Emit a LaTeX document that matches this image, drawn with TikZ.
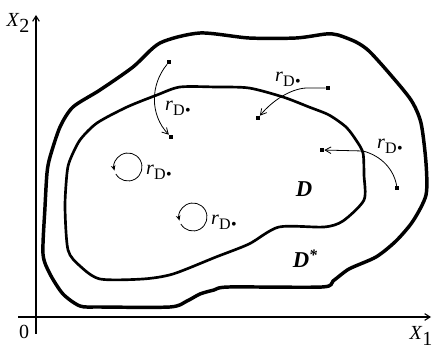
\documentclass[tikz,border=0pt]{standalone}
\usepackage{fontspec}
\setmainfont{Liberation Serif}
\usetikzlibrary{arrows.meta}
\begin{document}
\begin{tikzpicture}[x=0.75pt,y=-0.75pt,
  axis/.style={line width=0.8pt,-{Straight Barb[length=4pt,width=5pt]}},
  outer/.style={line width=2.6pt,line join=round},
  inner/.style={line width=2pt,line join=round},
  mapping/.style={line width=0.6pt,-{Straight Barb[length=4.5pt,width=5pt]}},
  spot/.style={fill=black,inner sep=0pt,minimum size=3pt,rectangle},
  lbl/.style={inner sep=0pt,font=\fontsize{15}{15}\selectfont},
  region/.style={inner sep=0pt,font=\fontsize{17}{17}\selectfont\bfseries\itshape}]
\useasboundingbox (0,0) rectangle (432,348);
\newcommand{\rlab}{\textit{r}\raisebox{-4pt}{\fontsize{12}{12}\selectfont D\kern0.5pt•}}
% axes
\coordinate (yb) at (36,334);
\coordinate (yt) at (36,15);
\coordinate (xl) at (18,317);
\coordinate (xr) at (431,317);
\draw[axis] (yb) -- (yt);
\draw[axis] (xl) -- (xr);
\node[lbl] (x2) at (18,23) {\textit{X}\raisebox{-4.5pt}{2}};
\node[lbl] (x1) at (421,336) {\textit{X}\raisebox{-4.5pt}{1}};
\node[lbl] (zero) at (24,332) {0};
% outer region D*
\draw[outer] plot[smooth cycle,tension=0.45] coordinates {
 (200,33) (249,38) (296,38) (326,34) (338,35) (356,42) (369,51) (389,73) (411,100)
 (421,123) (426,163) (426,195) (413,221) (396,241) (376,257) (349,269) (333,281)
 (322,287) (229,287) (214,290) (200,294) (187,301) (170,307) (100,307) (80,306)
 (63,294) (50,274) (43,254) (45,207) (47,173) (50,157) (60,127) (73,107) (100,90)
 (133,67) (160,43)};
% inner region D
\draw[inner] plot[smooth cycle,tension=0.45] coordinates {
 (180,87) (216,87) (249,88) (283,97) (309,107) (329,115) (346,127) (356,140)
 (363,153) (364,175) (364,200) (343,221) (324,227) (279,227) (249,244) (216,257)
 (173,274) (143,279) (100,279) (80,266) (68,250) (65,207) (67,173) (70,160)
 (80,140) (97,123) (127,107) (157,95)};
\node[region] (D) at (304,189) {D};
\node[region] (Ds) at (305,259) {D\raisebox{5pt}{\fontsize{12}{12}\selectfont *}};
% mapping 1
\node[spot] (a1s) at (169,62) {};
\node[spot] (a1e) at (171,137) {};
\draw[mapping] (a1s) .. controls (150,85) and (150,115) .. (a1e);
\node[lbl] (l1) at (178,108) {\rlab};
% mapping 2
\node[spot] (a2s) at (328,88) {};
\node[spot] (a2e) at (258,118) {};
\coordinate (a2m) at (306,88);
\draw[mapping] (a2s) -- (a2m) .. controls (290,89) and (272,101) .. (a2e);
\node[lbl] (l2) at (288,79) {\rlab};
% mapping 3
\node[spot] (a3s) at (397,188) {};
\node[spot] (a3e) at (322,150) {};
\coordinate (a3m) at (363,151);
\draw[mapping] (a3s) .. controls (394,170) and (382,156) .. (a3m) -- (a3e);
\node[lbl] (l3) at (390,146) {\rlab};
% rotations
\coordinate (c1) at (128,167);
\coordinate (c2) at (193,217);
\draw[line width=0.6pt,-{Stealth[length=4pt,width=3.5pt]}] (c1) ++(150:14) arc[start angle=150,end angle=-195,radius=14];
\draw[line width=0.6pt,-{Stealth[length=4pt,width=3.5pt]}] (c2) ++(150:14) arc[start angle=150,end angle=-195,radius=14];
\node[lbl] (l4) at (159,172) {\rlab};
\node[lbl] (l5) at (224,222) {\rlab};
\end{tikzpicture}
\end{document}
